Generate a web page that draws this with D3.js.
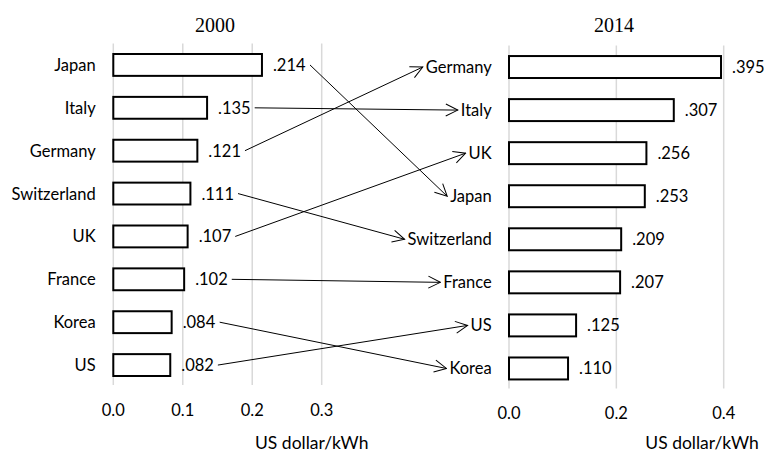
<!DOCTYPE html>
<html><head><meta charset="utf-8">
<script src="https://cdn.jsdelivr.net/npm/d3@7"></script>
<style>
html,body{margin:0;padding:0;background:#fff;}
svg{display:block;}
text{font-family:Lato, "Open Sans", sans-serif; fill:#000;}
</style></head>
<body><svg id="c" width="764" height="452"></svg>
<script>
const cats2000 = ["Japan","Italy","Germany","Switzerland","UK","France","Korea","US"];
const vals2000 = [0.214,0.135,0.121,0.111,0.107,0.102,0.084,0.082];
const cats2014 = ["Germany","Italy","UK","Japan","Switzerland","France","US","Korea"];
const vals2014 = [0.395,0.307,0.256,0.253,0.209,0.207,0.125,0.110];
const ticks2000 = [0,0.1,0.2,0.3];
const ticks2014 = [0,0.2,0.4];
const titles = ["2000","2014"];
const axisTitle = "US dollar/kWh";

const svg = d3.select("#c");
const FS = 16.5;
const fmtVal = v => d3.format(".3f")(v).replace(/^0/,"");
const fmtTick = d3.format(".1f");

svg.append("defs").append("marker")
  .attr("id","ah").attr("viewBox","0 0 14 14").attr("refX",13).attr("refY",7)
  .attr("markerWidth",14).attr("markerHeight",14).attr("markerUnits","userSpaceOnUse")
  .attr("orient","auto")
  .append("path").attr("d","M1,1 L13,7 L1,13").attr("fill","none").attr("stroke","#000").attr("stroke-width",1);

const panels = [
  {cats:cats2000, vals:vals2000, ticks:ticks2000, title:titles[0],
   xr:[113.3,321.7], dom:[0,0.3], yr:[43.5,386.5], labX:95.7, tickY:410, titleX:215, axTitleX:311.7},
  {cats:cats2014, vals:vals2014, ticks:ticks2014, title:titles[1],
   xr:[509,723.7], dom:[0,0.4], yr:[45.5,390], labX:491.7, tickY:413, titleX:614, axTitleX:702}
];

const refs = [];
panels.forEach((p,pi) => {
  const g = svg.append("g");
  const x = d3.scaleLinear().domain(p.dom).range(p.xr);
  const y = d3.scaleBand().domain(p.cats).range(p.yr).paddingInner(0.49).paddingOuter(0.245);
  g.selectAll(".grid").data(p.ticks).join("line")
    .attr("x1",d=>x(d)).attr("x2",d=>x(d)).attr("y1",p.yr[0]).attr("y2",p.yr[1]-1.5)
    .attr("stroke","#d9d9d9").attr("stroke-width",1.5);
  g.selectAll(".tl").data(p.ticks).join("text")
    .attr("x",d=>x(d)).attr("y",p.tickY).attr("text-anchor","middle").attr("dominant-baseline","central")
    .attr("font-size",FS).text(d=>fmtTick(d));
  g.append("text").attr("x",p.axTitleX).attr("y",448.5).attr("text-anchor","middle")
    .attr("font-size",17.5).text(axisTitle);
  g.append("text").attr("x",p.titleX).attr("y",25).attr("text-anchor","middle")
    .attr("dominant-baseline","central").attr("font-size",20)
    .style("font-family","'Liberation Serif', 'DejaVu Serif', serif").text(p.title);
  g.selectAll(".bar").data(p.cats).join("rect")
    .attr("x",x(0)).attr("y",d=>y(d)).attr("width",(d,i)=>x(p.vals[i])-x(0))
    .attr("height",y.bandwidth()).attr("fill","#fff").attr("stroke","#000").attr("stroke-width",2);
  const cl = g.selectAll(".cl").data(p.cats).join("text")
    .attr("x",p.labX).attr("y",d=>y(d)+y.bandwidth()/2).attr("text-anchor","end")
    .attr("dominant-baseline","central").attr("font-size",FS).text(d=>d);
  const vl = g.selectAll(".vl").data(p.cats).join("text")
    .attr("x",(d,i)=>x(p.vals[i])+11).attr("y",d=>y(d)+y.bandwidth()/2)
    .attr("dominant-baseline","central").attr("font-size",FS).text((d,i)=>fmtVal(p.vals[i]));
  refs.push({y, cl, vl});
});

const ag = svg.append("g");
cats2000.forEach((c,i) => {
  const bb = refs[0].vl.nodes()[i].getBBox();
  const j = cats2014.indexOf(c);
  const cb = refs[1].cl.nodes()[j].getBBox();
  const y0 = refs[0].y(c) + refs[0].y.bandwidth()/2;
  const y1 = refs[1].y(c) + refs[1].y.bandwidth()/2;
  ag.append("line")
    .attr("x1",bb.x+bb.width+4).attr("y1",y0)
    .attr("x2",cb.x-3).attr("y2",y1)
    .attr("stroke","#000").attr("stroke-width",1).attr("marker-end","url(#ah)");
});
</script></body></html>
